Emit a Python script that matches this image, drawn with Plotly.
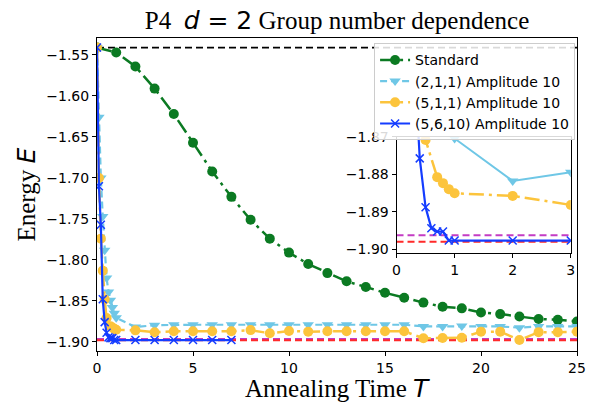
import plotly.graph_objects as go

# ---------------- data ----------------
T_std = list(range(0, 26))
E_std = [-1.541, -1.547, -1.564, -1.591, -1.622, -1.657, -1.692, -1.723, -1.751, -1.774,
         -1.791, -1.805, -1.816, -1.826, -1.833, -1.840, -1.846, -1.852, -1.857, -1.859,
         -1.864, -1.866, -1.869, -1.872, -1.873, -1.875]

T_211 = [0, 0.1, 0.2, 0.3, 0.4, 0.5, 0.6, 0.7, 0.8, 0.9, 1.0] + list(range(2, 26))
E_211 = [-1.541, -1.626, -1.700, -1.747, -1.788, -1.822, -1.839, -1.849, -1.858, -1.865, -1.8705,
         -1.8818, -1.8795, -1.8790, -1.8790, -1.8790, -1.8790, -1.8790, -1.8790, -1.8790,
         -1.8790, -1.8790, -1.8790, -1.8790, -1.8790, -1.8790, -1.8810, -1.8810, -1.8805,
         -1.8810, -1.8810, -1.8825, -1.8810, -1.8810, -1.8810]

T_511 = [0, 0.1, 0.2, 0.3, 0.4, 0.5, 0.7, 0.8, 0.9, 1.0] + list(range(2, 26))
E_511 = [-1.541, -1.700, -1.774, -1.813, -1.848, -1.8709, -1.8808, -1.8824, -1.8840, -1.8851,
         -1.8858, -1.8882, -1.8870, -1.8870, -1.8870, -1.8870, -1.8855, -1.8894, -1.8866,
         -1.8874, -1.8870, -1.8870, -1.8870, -1.8870, -1.8870, -1.8955, -1.8951, -1.8948,
         -1.8874, -1.8874, -1.8976, -1.8880, -1.8880, -1.8874]

T_5610 = [0, 0.1, 0.2, 0.3, 0.4, 0.5, 0.6, 0.7, 0.8, 0.9, 1.0] + list(range(2, 8))
E_5610 = [-1.541, -1.710, -1.757, -1.848, -1.8758, -1.8888, -1.8944, -1.8953, -1.8953,
          -1.8977, -1.8977, -1.8977, -1.8977, -1.8977, -1.8977, -1.8977, -1.8977]

E_initial = -1.541
E_ground_red = -1.8980
E_ground_magenta = -1.8963

names = ["Standard", "(2,1,1) Amplitude 10", "(5,1,1) Amplitude 10", "(5,6,10) Amplitude 10"]

main_xticks = [0, 5, 10, 15, 20, 25]
main_yticks = [-1.55, -1.60, -1.65, -1.70, -1.75, -1.80, -1.85, -1.90]
inset_xticks = [0, 1, 2, 3]
inset_yticks = [-1.87, -1.88, -1.89, -1.90]

# ---------------- style ----------------
GREEN = "#0b7a22"
CYAN = "#6fc7e6"
YELLOW = "#fcc43c"
BLUE = "#143cff"
RED = "#ff2a2a"
MAGENTA = "#c43cc4"
DASHDOT = "15px,5px,3px,5px"
DASH = "7px,4px"

fig = go.Figure()

def hline(y, color, xmax, xa, ya, width=2):
    fig.add_trace(go.Scatter(x=[0, xmax], y=[y, y], mode="lines", xaxis=xa, yaxis=ya,
                             line=dict(color=color, width=width, dash=DASH),
                             showlegend=False, hoverinfo="skip"))

# main axes reference lines
hline(E_initial, "black", 25, "x", "y", 1.8)
hline(E_ground_magenta, MAGENTA, 25, "x", "y")
hline(E_ground_red, RED, 25, "x", "y")

fig.add_trace(go.Scatter(x=T_std, y=E_std, mode="lines+markers", name=names[0],
                         line=dict(color=GREEN, width=2.5, dash=DASHDOT),
                         marker=dict(symbol="circle", size=10, color=GREEN)))
fig.add_trace(go.Scatter(x=T_211, y=E_211, mode="lines+markers", name=names[1],
                         line=dict(color=CYAN, width=2.2, dash=DASH),
                         marker=dict(symbol="triangle-down", size=10, color=CYAN)))
fig.add_trace(go.Scatter(x=T_511, y=E_511, mode="lines+markers", name=names[2],
                         line=dict(color=YELLOW, width=2.5, dash=DASHDOT),
                         marker=dict(symbol="circle", size=10, color=YELLOW)))
fig.add_trace(go.Scatter(x=T_5610, y=E_5610, mode="lines+markers", name=names[3],
                         line=dict(color=BLUE, width=2.2),
                         marker=dict(symbol="x-thin", size=8, color=BLUE,
                                     line=dict(color=BLUE, width=1.5))))

# inset
hline(E_ground_magenta, MAGENTA, 3, "x2", "y2")
hline(E_ground_red, RED, 3, "x2", "y2")
fig.add_trace(go.Scatter(x=T_211, y=E_211, mode="lines+markers", xaxis="x2", yaxis="y2",
                         line=dict(color=CYAN, width=2),
                         marker=dict(symbol="triangle-down", size=10, color=CYAN),
                         showlegend=False))
fig.add_trace(go.Scatter(x=T_511, y=E_511, mode="lines+markers", xaxis="x2", yaxis="y2",
                         line=dict(color=YELLOW, width=2.5, dash=DASHDOT),
                         marker=dict(symbol="circle", size=10, color=YELLOW),
                         showlegend=False))
fig.add_trace(go.Scatter(x=T_5610, y=E_5610, mode="lines+markers", xaxis="x2", yaxis="y2",
                         line=dict(color=BLUE, width=2.2),
                         marker=dict(symbol="x-thin", size=8, color=BLUE,
                                     line=dict(color=BLUE, width=1.5)),
                         showlegend=False))

tickfont = dict(family="DejaVu Sans", size=14, color="black")
axcommon = dict(showgrid=False, zeroline=False, showline=True, linecolor="black", linewidth=1,
                mirror=True, ticks="outside", ticklen=4, tickwidth=1, tickcolor="black",
                tickfont=tickfont, automargin=False)

fig.update_layout(
    width=592, height=403, autosize=False,
    margin=dict(l=97, r=15, t=38, b=52, autoexpand=False),
    plot_bgcolor="white", paper_bgcolor="white",
    xaxis=dict(range=[0, 25], tickvals=main_xticks, domain=[0, 1], **axcommon),
    yaxis=dict(range=[-1.911, -1.5293], tickvals=main_yticks, tickformat=".2f",
               domain=[0, 1], **axcommon),
    xaxis2=dict(range=[0, 3], tickvals=inset_xticks, domain=[0.624, 0.987],
                anchor="y2", **axcommon),
    yaxis2=dict(range=[-1.9011, -1.87], tickvals=inset_yticks, tickformat=".2f",
                domain=[0.312, 0.685], anchor="x2", **axcommon),
    showlegend=True,
    legend=dict(x=0.996, y=0.983, xanchor="right", yanchor="top",
                bgcolor="rgba(255,255,255,0.85)", bordercolor="#cccccc", borderwidth=1,
                font=dict(family="DejaVu Sans", size=14, color="black"),
                itemwidth=30, tracegroupgap=0),
    title=dict(text="P4\u00a0\u00a0<span style='font-family:DejaVu Sans'><i>d</i> = 2</span> Group number dependence",
               x=0.5, xref="paper", xanchor="center", y=1 - 20 / 403, yref="container",
               yanchor="middle", font=dict(family="Liberation Serif", size=25, color="black")),
    annotations=[
        dict(text="Annealing Time <span style='font-family:DejaVu Sans'><i>T</i></span>",
             x=0.5, y=(351 - 388) / 313, xref="paper", yref="paper", showarrow=False,
             xanchor="center", yanchor="middle",
             font=dict(family="Liberation Serif", size=25, color="black")),
        dict(text="Energy <span style='font-family:DejaVu Sans'><i>E</i></span>",
             x=(26 - 97) / 480, y=0.5, xref="paper", yref="paper", showarrow=False,
             textangle=-90, xanchor="center", yanchor="middle",
             font=dict(family="Liberation Serif", size=25, color="black")),
    ],
)

fig.write_html("out.html", config={"displayModeBar": False},
               post_script="document.body.style.margin='0px';")
